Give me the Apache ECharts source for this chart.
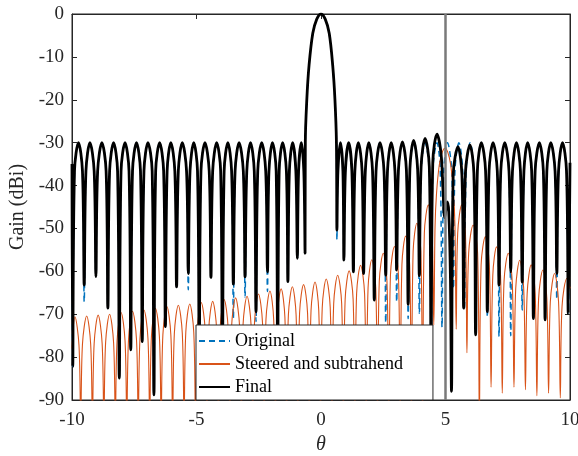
<!DOCTYPE html>
<html>
<head>
<meta charset="utf-8">
<script src="https://cdn.jsdelivr.net/npm/echarts@6/dist/echarts.min.js"></script>
<style>
html, body { margin: 0; padding: 0; background: #fff; }
#chart { width: 578px; height: 456px; }
</style>
</head>
<body>
<div id="chart"></div>
<script>
// theta (deg) vs gain (dBi): nulls, lobe shoulders and peaks
const finalGain = [
  [-10,-35],
  [-9.97,-82.2],[-9.90,-36.6],[-9.74,-30],[-9.58,-36.6],
  [-9.51,-63.2],[-9.44,-36.6],[-9.28,-30],[-9.11,-36.6],
  [-9.04,-61.2],[-8.97,-36.6],[-8.80,-30],[-8.63,-36.6],
  [-8.56,-68.6],[-8.49,-36.6],[-8.33,-30],[-8.17,-36.6],
  [-8.10,-84.9],[-8.03,-36.6],[-7.87,-30],[-7.71,-36.6],
  [-7.64,-78.3],[-7.57,-36.6],[-7.41,-30],[-7.25,-36.6],
  [-7.18,-76.4],[-7.11,-36.6],[-6.95,-30],[-6.78,-36.6],
  [-6.71,-88.8],[-6.64,-36.6],[-6.48,-30],[-6.32,-36.6],
  [-6.25,-72.9],[-6.18,-36.6],[-6.03,-30],[-5.87,-36.6],
  [-5.80,-63.6],[-5.73,-36.6],[-5.57,-30],[-5.40,-36.6],
  [-5.33,-60.5],[-5.26,-36.6],[-5.11,-30],[-4.96,-36.6],
  [-4.89,-80],[-4.82,-36.6],[-4.66,-30],[-4.49,-36.6],
  [-4.42,-61.4],[-4.35,-36.6],[-4.19,-30],[-4.03,-36.6],
  [-3.96,-85],[-3.89,-36.6],[-3.74,-30],[-3.59,-36.6],
  [-3.52,-63],[-3.45,-36.6],[-3.29,-30],[-3.12,-36.6],
  [-3.05,-61.3],[-2.98,-36.6],[-2.83,-30],[-2.68,-36.6],
  [-2.61,-69.4],[-2.54,-36.6],[-2.38,-30],[-2.22,-36.6],
  [-2.15,-60.1],[-2.09,-36.6],[-1.95,-30],[-1.80,-36.6],
  [-1.74,-85],[-1.68,-36.6],[-1.54,-30],[-1.39,-36.6],
  [-1.33,-62.4],[-1.27,-36.6],[-1.14,-30],[-1.01,-36.6],
  [-0.95,-57],[-0.90,-36.6],[-0.79,-30],[-0.69,-36.6],
  [-0.64,-55.8],[-0.63,-30],[-0.57,-20],[-0.48,-12],[-0.33,-4.5],[-0.17,-1.2],[0,0],
  [0.17,-1.2],[0.33,-4.5],[0.47,-12],[0.56,-20],[0.62,-30],
  [0.64,-50.4],[0.68,-36.6],[0.78,-30],[0.88,-36.6],
  [0.92,-57.4],[0.98,-36.6],[1.11,-30],[1.24,-36.6],
  [1.30,-60.1],[1.36,-36.6],[1.50,-30],[1.65,-36.6],
  [1.71,-60.5],[1.78,-36.6],[1.92,-30],[2.07,-36.6],
  [2.14,-66.7],[2.21,-36.6],[2.37,-30],[2.53,-36.6],
  [2.60,-60.9],[2.67,-36.6],[2.82,-30],[2.97,-36.6],
  [3.04,-59.7],[3.11,-36.4],[3.27,-29.8],[3.43,-36.4],
  [3.50,-67.7],[3.57,-36.1],[3.72,-29.5],[3.88,-36.1],
  [3.95,-61],[4.02,-35.6],[4.18,-29],[4.35,-35.6],
  [4.42,-80],[4.49,-34.6],[4.66,-28],[4.82,-32.5],[4.90,-41],[4.97,-47.5],[5.07,-43.8],[5.13,-46],[5.20,-62],
  [5.24,-88],[5.31,-37.5],[5.50,-30.9],[5.66,-37.5],
  [5.73,-68.6],[5.80,-37.1],[5.98,-30.5],[6.14,-37.1],
  [6.21,-74.8],[6.28,-36.6],[6.44,-30],[6.61,-36.6],
  [6.68,-69.4],[6.75,-36.6],[6.91,-30],[7.08,-36.6],
  [7.15,-63.2],[7.22,-36.6],[7.38,-30],[7.55,-36.6],
  [7.62,-60.1],[7.69,-36.6],[7.85,-30],[8.01,-36.6],
  [8.08,-62.5],[8.15,-36.6],[8.30,-30],[8.46,-36.6],
  [8.53,-71],[8.60,-36.6],[8.77,-30],[8.93,-36.6],
  [9.00,-71.3],[9.07,-36.6],[9.23,-30],[9.40,-36.6],
  [9.47,-60.5],[9.54,-36.6],[9.70,-30],[9.86,-36.6],
  [9.93,-69.8],[10,-34.7]
];

const originalGain = [
  [-10,-35],
  [-9.97,-82.2],[-9.90,-36.6],[-9.74,-30],[-9.58,-36.6],
  [-9.51,-67.1],[-9.44,-36.6],[-9.28,-30],[-9.11,-36.6],
  [-9.04,-61.2],[-8.97,-36.6],[-8.80,-30],[-8.63,-36.6],
  [-8.56,-68.6],[-8.49,-36.6],[-8.33,-30],[-8.17,-36.6],
  [-8.10,-84.9],[-8.03,-36.6],[-7.87,-30],[-7.71,-36.6],
  [-7.64,-78.3],[-7.57,-36.6],[-7.41,-30],[-7.25,-36.6],
  [-7.18,-76.4],[-7.11,-36.6],[-6.95,-30],[-6.78,-36.6],
  [-6.71,-88.8],[-6.64,-36.6],[-6.48,-30],[-6.32,-36.6],
  [-6.25,-72.9],[-6.18,-36.6],[-6.03,-30],[-5.87,-36.6],
  [-5.80,-63.6],[-5.73,-36.6],[-5.57,-30],[-5.40,-36.6],
  [-5.33,-64.3],[-5.26,-36.6],[-5.11,-30],[-4.96,-36.6],
  [-4.89,-80],[-4.82,-36.6],[-4.66,-30],[-4.49,-36.6],
  [-4.42,-61.4],[-4.35,-36.6],[-4.19,-30],[-4.03,-36.6],
  [-3.96,-85],[-3.89,-36.6],[-3.74,-30],[-3.59,-36.6],
  [-3.52,-70.9],[-3.45,-36.6],[-3.29,-30],[-3.12,-36.6],
  [-3.05,-66],[-2.98,-36.6],[-2.83,-30],[-2.68,-36.6],
  [-2.61,-71.7],[-2.54,-36.6],[-2.38,-30],[-2.22,-36.6],
  [-2.15,-64.7],[-2.09,-36.6],[-1.95,-30],[-1.80,-36.6],
  [-1.74,-85],[-1.68,-36.6],[-1.54,-30],[-1.39,-36.6],
  [-1.33,-62.4],[-1.27,-36.6],[-1.14,-30],[-1.01,-36.6],
  [-0.95,-57],[-0.90,-36.6],[-0.79,-30],[-0.69,-36.6],
  [-0.64,-55.8],[-0.63,-30],[-0.57,-20],[-0.48,-12],[-0.33,-4.5],[-0.17,-1.2],[0,0],
  [0.17,-1.2],[0.33,-4.5],[0.47,-12],[0.56,-20],[0.62,-30],
  [0.64,-52.7],[0.68,-36.6],[0.78,-30],[0.88,-36.6],
  [0.92,-57.4],[0.98,-36.6],[1.11,-30],[1.24,-36.6],
  [1.30,-60.1],[1.36,-36.6],[1.50,-30],[1.65,-36.6],
  [1.71,-60.5],[1.78,-36.6],[1.92,-30],[2.07,-36.6],
  [2.14,-66.7],[2.21,-36.6],[2.37,-30],[2.53,-36.6],
  [2.60,-72],[2.67,-36.6],[2.82,-30],[2.97,-36.6],
  [3.04,-67.1],[3.11,-36.6],[3.27,-30],[3.43,-36.6],
  [3.50,-71],[3.57,-36.6],[3.72,-30],[3.88,-36.6],
  [3.95,-69.8],[4.02,-36.6],[4.18,-30],[4.35,-36.6],
  [4.42,-80],[4.49,-36.6],[4.66,-30],[4.79,-36.6],
  [4.86,-73],[4.93,-36.6],[5.08,-30],[5.25,-36.6],
  [5.32,-64],[5.38,-36.6],[5.54,-30],[5.69,-36.6],
  [5.76,-68.6],[5.83,-36.6],[5.99,-30],[6.14,-36.6],
  [6.21,-75],[6.28,-36.6],[6.44,-30],[6.61,-36.6],
  [6.68,-70.6],[6.75,-36.6],[6.91,-30],[7.08,-36.6],
  [7.15,-75.2],[7.22,-36.6],[7.38,-30],[7.55,-36.6],
  [7.62,-75],[7.69,-36.6],[7.85,-30],[8.01,-36.6],
  [8.08,-69],[8.15,-36.6],[8.30,-30],[8.46,-36.6],
  [8.53,-71],[8.60,-36.6],[8.77,-30],[8.93,-36.6],
  [9.00,-71.3],[9.07,-36.6],[9.23,-30],[9.40,-36.6],
  [9.47,-66.5],[9.54,-36.6],[9.70,-30],[9.86,-36.6],
  [9.93,-69.8],[10,-34.7]
];

const steeredGain = [
  [-10,-78],[-9.88,-70.6],[-9.72,-77.2],
  [-9.65,-95],[-9.58,-77],[-9.41,-70.4],[-9.25,-77],
  [-9.18,-95],[-9.11,-76.8],[-8.95,-70.2],[-8.79,-76.8],
  [-8.72,-95],[-8.65,-76.6],[-8.49,-70],[-8.33,-76.6],
  [-8.26,-95],[-8.19,-76.2],[-8.03,-69.6],[-7.87,-76.2],
  [-7.80,-95],[-7.73,-75.9],[-7.57,-69.3],[-7.41,-75.9],
  [-7.34,-95],[-7.27,-75.6],[-7.11,-69],[-6.95,-75.6],
  [-6.88,-95],[-6.81,-75.2],[-6.65,-68.6],[-6.49,-75.2],
  [-6.42,-95],[-6.35,-74.8],[-6.19,-68.2],[-6.03,-74.8],
  [-5.96,-95],[-5.89,-74.5],[-5.73,-67.9],[-5.57,-74.5],
  [-5.50,-95],[-5.43,-74.2],[-5.27,-67.6],[-5.11,-74.2],
  [-5.04,-95],[-4.97,-73.9],[-4.81,-67.3],[-4.65,-73.9],
  [-4.58,-95],[-4.51,-73.6],[-4.35,-67],[-4.19,-73.6],
  [-4.12,-95],[-4.05,-73.2],[-3.89,-66.6],[-3.73,-73.2],
  [-3.66,-95],[-3.59,-72.8],[-3.43,-66.2],[-3.27,-72.8],
  [-3.20,-95],[-3.13,-72.4],[-2.97,-65.8],[-2.81,-72.4],
  [-2.74,-95],[-2.67,-71.9],[-2.51,-65.3],[-2.35,-71.9],
  [-2.28,-95],[-2.21,-71.2],[-2.05,-64.6],[-1.90,-71.2],
  [-1.83,-95],[-1.76,-70.7],[-1.60,-64.1],[-1.45,-70.7],
  [-1.38,-95],[-1.31,-70.2],[-1.15,-63.6],[-1.00,-70.2],
  [-0.93,-95],[-0.86,-69.7],[-0.70,-63.1],[-0.54,-69.7],
  [-0.47,-95],[-0.40,-69.1],[-0.24,-62.5],[-0.09,-69.1],
  [-0.02,-95],[0.05,-68.4],[0.21,-61.8],[0.37,-68.4],
  [0.44,-95],[0.51,-67.5],[0.67,-60.9],[0.83,-67.5],
  [0.90,-95],[0.97,-66.5],[1.13,-59.9],[1.29,-66.5],
  [1.36,-95],[1.43,-65.2],[1.59,-58.6],[1.75,-65.2],
  [1.82,-95],[1.89,-63.9],[2.04,-57.3],[2.20,-63.9],
  [2.27,-95],[2.34,-62.4],[2.50,-55.8],[2.65,-62.4],
  [2.72,-95],[2.79,-60.8],[2.95,-54.2],[3.11,-60.8],
  [3.18,-95],[3.25,-58.4],[3.40,-51.8],[3.56,-58.4],
  [3.63,-95],[3.70,-55.4],[3.85,-48.8],[4.01,-55.4],
  [4.08,-95],[4.15,-51.1],[4.31,-44.5],[4.46,-51.1],
  [4.53,-72.5],[4.58,-49.6],[4.64,-41.8],[4.75,-35.2],[4.87,-32.2],[4.98,-31.3],
  [5.09,-32.2],[5.21,-35.2],[5.32,-41.8],[5.38,-49.6],
  [5.43,-73.5],[5.49,-51.1],[5.65,-44.5],[5.80,-51.1],
  [5.86,-79],[5.93,-55.8],[6.11,-49.2],[6.29,-55.8],
  [6.36,-95],[6.43,-58.5],[6.60,-51.9],[6.76,-58.5],
  [6.83,-87],[6.90,-60.9],[7.05,-54.3],[7.21,-60.9],
  [7.28,-88.4],[7.35,-62.4],[7.52,-55.8],[7.68,-62.4],
  [7.75,-87],[7.82,-64],[7.98,-57.4],[8.14,-64],
  [8.21,-87.6],[8.28,-65.1],[8.44,-58.5],[8.60,-65.1],
  [8.67,-89],[8.74,-66.3],[8.91,-59.7],[9.07,-66.3],
  [9.14,-88.4],[9.21,-67.1],[9.38,-60.5],[9.54,-67.1],
  [9.61,-89.5],[9.68,-68.2],[9.88,-61.6],[10,-64]
];

const steerAngle = 5.0;
const seriesNames = ['Original', 'Steered and subtrahend', 'Final'];

const font = 'Liberation Serif, Times New Roman, serif';
const axisColor = '#262626';

const chart = echarts.init(document.getElementById('chart'));

function makeAxis(extra) {
    return Object.assign({
        type: 'value',
        axisLine: { show: true, onZero: false, lineStyle: { color: axisColor, width: 1 } },
        axisTick: { show: true, inside: true, length: 5, lineStyle: { color: axisColor } },
        splitLine: { show: false }
    }, extra);
}

chart.setOption({
    animation: false,
    backgroundColor: '#fff',
    grid: {
        left: 72, right: 8, top: 14, bottom: 56,
        outerBoundsMode: 'none',
        containLabel: false,
        show: true, borderColor: axisColor, borderWidth: 1, backgroundColor: 'transparent'
    },
    xAxis: [
        makeAxis({
            position: 'bottom', min: -10, max: 10, interval: 5,
            axisLabel: { color: axisColor, fontFamily: font, fontSize: 19, margin: 11 },
            name: 'θ', nameLocation: 'middle', nameGap: 35,
            nameTextStyle: { color: axisColor, fontFamily: font, fontSize: 20, fontStyle: 'italic' }
        }),
        makeAxis({
            position: 'top', min: -10, max: 10, interval: 5,
            axisLabel: { show: false }
        })
    ],
    yAxis: [
        makeAxis({
            position: 'left', min: -90, max: 0, interval: 10,
            axisLabel: { color: axisColor, fontFamily: font, fontSize: 19, margin: 8 },
            name: 'Gain (dBi)', nameLocation: 'middle', nameGap: 28,
            nameTextStyle: { color: axisColor, fontFamily: font, fontSize: 20 }
        }),
        makeAxis({
            position: 'right', min: -90, max: 0, interval: 10,
            axisLabel: { show: false }
        })
    ],
    legend: {
        data: seriesNames,
        orient: 'vertical',
        left: 196,
        top: 325,
        z: 10,
        padding: [5, 30, 2, 2],
        itemWidth: 31,
        itemHeight: 14,
        itemGap: 1,
        itemStyle: { opacity: 0 },
        backgroundColor: '#fff',
        borderColor: axisColor,
        borderWidth: 1,
        borderRadius: 0,
        textStyle: { color: '#000', fontFamily: font, fontSize: 18, lineHeight: 22 }
    },
    series: [
        {
            name: 'Original', type: 'line', data: originalGain,
            symbol: 'none', smooth: 0.35, z: 2,
            lineStyle: { color: '#0072BD', width: 1.5, type: [6, 4] },
            itemStyle: { color: '#0072BD' }
        },
        {
            name: 'Steered and subtrahend', type: 'line', data: steeredGain,
            symbol: 'none', smooth: 0.35, z: 3,
            lineStyle: { color: '#D95319', width: 1.1 },
            itemStyle: { color: '#D95319' }
        },
        {
            name: 'Final', type: 'line', data: finalGain,
            symbol: 'none', smooth: 0.35, z: 4,
            lineStyle: { color: '#000', width: 2.8 },
            itemStyle: { color: '#000' }
        },
        {
            name: 'steer', type: 'line', data: [[steerAngle, 0], [steerAngle, -90]],
            symbol: 'none', z: 5, silent: true,
            lineStyle: { color: '#7a7a7a', width: 2.5 }
        }
    ]
});
</script>
</body>
</html>
